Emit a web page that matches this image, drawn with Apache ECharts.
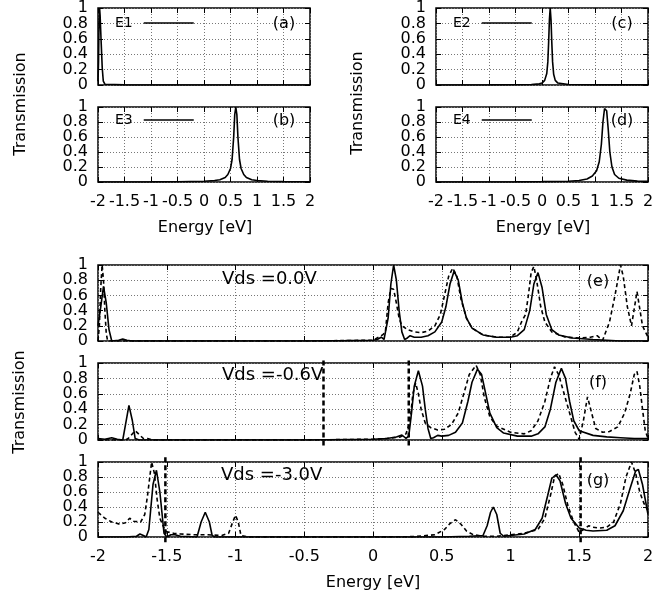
<!DOCTYPE html>
<html><head><meta charset="utf-8">
<script src="https://cdn.jsdelivr.net/npm/echarts@6/dist/echarts.min.js"></script>
<style>html,body{margin:0;padding:0;background:#fff}#c{width:671px;height:600px}</style>
</head><body><div id="c"></div>
<script>
// ---------- data ----------
const xTicks = [-2, -1.5, -1, -0.5, 0, 0.5, 1, 1.5, 2];
const yTicks = [0, 0.2, 0.4, 0.6, 0.8, 1];

const e1 = [[-2,0.05],[-1.99,0.3],[-1.98,0.85],[-1.97,1.0],[-1.96,0.9],[-1.94,0.55],[-1.92,0.22],[-1.9,0.05],[-1.87,0.01],[-1.5,0.002],[0,0],[2,0]];
const e2 = [[-2,0],[-1,0.001],[-0.5,0.003],[-0.2,0.006],[-0.05,0.015],[0,0.025],[0.05,0.06],[0.09,0.15],[0.11,0.3],[0.125,0.55],[0.14,0.85],[0.155,1.0],[0.17,0.85],[0.185,0.55],[0.2,0.3],[0.22,0.14],[0.25,0.06],[0.3,0.025],[0.5,0.007],[1,0.002],[2,0.001]];
const e3 = [[-2,0],[-1,0.002],[-0.5,0.004],[0,0.01],[0.2,0.02],[0.3,0.03],[0.4,0.06],[0.45,0.1],[0.5,0.18],[0.53,0.3],[0.56,0.6],[0.58,0.9],[0.6,1.0],[0.62,0.9],[0.64,0.6],[0.67,0.3],[0.7,0.18],[0.75,0.1],[0.8,0.06],[0.9,0.03],[1.0,0.02],[1.2,0.01],[1.5,0.005],[2,0.003]];
const e4 = [[-2,0],[-0.5,0.002],[0,0.005],[0.5,0.01],[0.7,0.02],[0.85,0.04],[0.95,0.08],[1.03,0.15],[1.08,0.27],[1.12,0.5],[1.15,0.8],[1.18,0.98],[1.2,1.0],[1.22,0.95],[1.25,0.7],[1.28,0.4],[1.32,0.2],[1.37,0.1],[1.45,0.05],[1.6,0.025],[1.8,0.012],[2,0.008]];

const eSolid = [[-2,0.2],[-1.98,0.45],[-1.96,0.72],[-1.94,0.5],[-1.92,0.15],[-1.9,0],[-1.85,0.01],[-1.82,0.025],[-1.79,0.01],[-1.75,0],[-1.5,0],[-1,0],[-0.5,0],[-0.2,0.005],[0,0.01],[0.03,0.02],[0.06,0.05],[0.08,0.02],[0.09,0],[0.11,0.3],[0.13,0.75],[0.15,1.0],[0.17,0.8],[0.19,0.4],[0.21,0.12],[0.23,0.02],[0.25,0.04],[0.27,0.07],[0.3,0.05],[0.35,0.05],[0.4,0.07],[0.45,0.12],[0.5,0.25],[0.53,0.45],[0.56,0.75],[0.59,0.92],[0.62,0.8],[0.65,0.5],[0.68,0.3],[0.72,0.17],[0.8,0.08],[0.9,0.05],[1.0,0.05],[1.05,0.07],[1.1,0.15],[1.14,0.4],[1.17,0.75],[1.2,0.9],[1.23,0.7],[1.26,0.35],[1.3,0.15],[1.35,0.08],[1.45,0.04],[1.6,0.02],[1.7,0.01],[1.8,0],[2,0]];
const eDashed = [[-2,0],[-1.99,0.2],[-1.98,0.7],[-1.97,1.0],[-1.96,0.8],[-1.95,0.4],[-1.94,0.1],[-1.93,0],[-1.5,0],[-1,0],[-0.5,0],[0,0.01],[0.04,0.05],[0.07,0.08],[0.09,0.12],[0.11,0.5],[0.13,0.69],[0.15,0.68],[0.17,0.5],[0.19,0.3],[0.21,0.2],[0.25,0.15],[0.3,0.12],[0.35,0.11],[0.4,0.13],[0.45,0.2],[0.49,0.35],[0.52,0.6],[0.55,0.85],[0.58,0.96],[0.61,0.85],[0.64,0.55],[0.68,0.3],[0.72,0.17],[0.8,0.08],[0.9,0.05],[1.0,0.05],[1.05,0.12],[1.08,0.25],[1.11,0.35],[1.13,0.6],[1.15,0.9],[1.17,0.98],[1.19,0.8],[1.22,0.45],[1.25,0.25],[1.3,0.12],[1.4,0.05],[1.5,0.04],[1.58,0.05],[1.63,0.07],[1.67,0.01],[1.72,0.25],[1.76,0.6],[1.8,1.0],[1.82,0.85],[1.85,0.45],[1.88,0.2],[1.92,0.65],[1.96,0.2],[2,0.05]];

const fSolid = [[-2,0.02],[-1.95,0.01],[-1.9,0.03],[-1.86,0.01],[-1.82,0],[-1.8,0.2],[-1.775,0.45],[-1.75,0.25],[-1.73,0.02],[-1.7,0],[-1.5,0],[-1,0],[-0.5,0],[0,0.01],[0.1,0.02],[0.17,0.04],[0.21,0.065],[0.24,0.02],[0.26,0.05],[0.28,0.35],[0.3,0.7],[0.33,0.9],[0.36,0.7],[0.38,0.4],[0.4,0.15],[0.42,0.02],[0.44,0.03],[0.47,0.06],[0.5,0.05],[0.55,0.06],[0.6,0.1],[0.65,0.22],[0.69,0.5],[0.72,0.75],[0.76,0.92],[0.79,0.85],[0.82,0.6],[0.85,0.35],[0.9,0.16],[0.95,0.09],[1.05,0.05],[1.15,0.05],[1.2,0.08],[1.25,0.17],[1.29,0.4],[1.33,0.75],[1.37,0.93],[1.4,0.8],[1.43,0.5],[1.46,0.25],[1.5,0.12],[1.6,0.06],[1.7,0.04],[1.8,0.03],[1.9,0.02],[2,0.02]];
const fDashed = [[-2,0],[-1.8,0],[-1.78,0.02],[-1.76,0.06],[-1.73,0.12],[-1.7,0.07],[-1.67,0.02],[-1.64,0.02],[-1.6,0],[-1,0],[-0.5,0],[0,0.01],[0.1,0.02],[0.2,0.04],[0.24,0.08],[0.27,0.25],[0.29,0.6],[0.31,0.74],[0.33,0.6],[0.35,0.4],[0.38,0.22],[0.42,0.16],[0.47,0.13],[0.52,0.14],[0.57,0.2],[0.62,0.35],[0.66,0.6],[0.7,0.85],[0.75,0.97],[0.78,0.85],[0.81,0.55],[0.85,0.3],[0.9,0.18],[1.0,0.1],[1.1,0.08],[1.15,0.12],[1.2,0.25],[1.25,0.5],[1.29,0.8],[1.32,0.95],[1.35,0.85],[1.39,0.6],[1.43,0.35],[1.47,0.1],[1.5,0.01],[1.53,0.25],[1.56,0.56],[1.59,0.35],[1.62,0.15],[1.67,0.1],[1.72,0.11],[1.78,0.17],[1.83,0.35],[1.87,0.6],[1.9,0.85],[1.92,0.89],[1.94,0.7],[1.96,0.4],[1.98,0.12],[2,0.02]];

const gSolid = [[-2,0],[-1.8,0],[-1.72,0.01],[-1.695,0.04],[-1.67,0.02],[-1.65,0],[-1.63,0.1],[-1.6,0.7],[-1.575,0.89],[-1.55,0.6],[-1.52,0.05],[-1.5,0],[-1.47,0.03],[-1.44,0.03],[-1.4,0.01],[-1.28,0],[-1.25,0.2],[-1.22,0.33],[-1.19,0.2],[-1.17,0.02],[-1.15,0],[-1,0],[-0.5,0],[0,0],[0.5,0],[0.7,0.01],[0.8,0.02],[0.83,0.15],[0.855,0.33],[0.875,0.4],[0.9,0.3],[0.925,0.05],[0.95,0.01],[1.0,0.02],[1.1,0.04],[1.18,0.1],[1.23,0.25],[1.27,0.55],[1.3,0.78],[1.33,0.83],[1.36,0.75],[1.4,0.45],[1.44,0.25],[1.5,0.12],[1.55,0.09],[1.6,0.08],[1.7,0.09],[1.76,0.15],[1.82,0.35],[1.87,0.65],[1.91,0.88],[1.93,0.9],[1.96,0.7],[1.98,0.5],[2,0.3]];
const gDashed = [[-2,0.33],[-1.95,0.25],[-1.9,0.2],[-1.84,0.17],[-1.8,0.19],[-1.77,0.25],[-1.74,0.21],[-1.69,0.2],[-1.66,0.3],[-1.64,0.55],[-1.62,0.85],[-1.61,1.0],[-1.59,0.85],[-1.57,0.5],[-1.55,0.25],[-1.52,0.12],[-1.5,0.07],[-1.45,0.05],[-1.4,0.04],[-1.3,0.03],[-1.2,0.03],[-1.1,0.02],[-1.05,0.05],[-1.02,0.2],[-1.0,0.29],[-0.98,0.2],[-0.96,0.02],[-0.9,0],[-0.5,0],[0,0],[0.3,0.005],[0.45,0.03],[0.52,0.1],[0.56,0.18],[0.6,0.23],[0.64,0.17],[0.68,0.08],[0.73,0.03],[0.8,0.01],[0.9,0.01],[1.0,0.03],[1.1,0.05],[1.2,0.1],[1.25,0.25],[1.29,0.55],[1.32,0.8],[1.35,0.85],[1.38,0.7],[1.42,0.4],[1.46,0.2],[1.5,0.06],[1.53,0.1],[1.57,0.15],[1.6,0.13],[1.65,0.12],[1.7,0.13],[1.75,0.2],[1.8,0.45],[1.84,0.8],[1.88,1.0],[1.91,0.85],[1.94,0.6],[1.97,0.45],[2,0.35]];

const fermiF = [-0.36, 0.26];
const fermiG = [-1.51, 1.51];

const panelLabels = ['(a)', '(b)', '(c)', '(d)', '(e)', '(f)', '(g)'];
const vdsLabels = ['Vds =0.0V', 'Vds =-0.6V', 'Vds =-3.0V'];
const legendNames = ['E1', 'E3', 'E2', 'E4'];

// ---------- layout ----------
const FONT = 'DejaVu Sans';
const grids = [
  {left: 98, top: 8, width: 212, height: 77},    // a
  {left: 98, top: 107, width: 212, height: 75},  // b
  {left: 436, top: 8, width: 212, height: 77},   // c
  {left: 436, top: 107, width: 212, height: 75}, // d
  {left: 98, top: 265, width: 550, height: 76},  // e
  {left: 98, top: 363, width: 550, height: 77},  // f
  {left: 98, top: 462, width: 550, height: 75}   // g
];
const showXLabels = [false, true, false, true, false, false, true];
const labelPos = [[284,24],[284,121],[622,24],[622,121],[598,282],[598,383],[598,481]];
const vdsPos = [[222,279],[222,375],[221,475]];
const legendPos = [[115,25],[115,122],[453,25],[453,122]];

const gridLine = {show: true, lineStyle: {color: '#777', type: [1, 2], width: 1}};
const tick = {show: true, inside: true, length: 5, lineStyle: {color: '#000'}};
const noLine = {show: false, onZero: false};
const yBase = {type: 'value', min: yTicks[0], max: yTicks[yTicks.length-1], interval: yTicks[1]-yTicks[0], axisLine: noLine};
const xBase = {type: 'value', min: xTicks[0], max: xTicks[xTicks.length-1], interval: xTicks[1]-xTicks[0], axisLine: noLine};
const yLabelStyle = {fontFamily: FONT, fontSize: 16, color: '#000', margin: 10, showMinLabel: true, showMaxLabel: true};
// y tick labels are split across two overlaid left axes so that ECharts does not drop tightly packed labels
const evenIdx = v => Math.round(v / (yTicks[1]-yTicks[0])) % 2 === 0;

const xAxes = [], yAxes = [];
grids.forEach((g, i) => {
  xAxes.push(Object.assign({}, xBase, {gridIndex: i, position: 'bottom', axisTick: tick,
    axisLabel: {show: showXLabels[i], fontFamily: FONT, fontSize: 16, color: '#000', margin: 12, showMinLabel: true, showMaxLabel: true},
    splitLine: gridLine}));
  yAxes.push(Object.assign({}, yBase, {gridIndex: i, position: 'left', axisTick: tick,
    axisLabel: Object.assign({formatter: v => evenIdx(v) ? String(v) : ''}, yLabelStyle),
    splitLine: gridLine}));
});
grids.forEach((g, i) => {
  xAxes.push(Object.assign({}, xBase, {gridIndex: i, position: 'top', axisTick: tick, axisLabel: {show: false}, splitLine: {show: false}}));
  yAxes.push(Object.assign({}, yBase, {gridIndex: i, position: 'right', axisTick: tick, axisLabel: {show: false}, splitLine: {show: false}}));
});
grids.forEach((g, i) => {
  yAxes.push(Object.assign({}, yBase, {gridIndex: i, position: 'left', axisTick: {show: false},
    axisLabel: Object.assign({formatter: v => evenIdx(v) ? '' : String(v)}, yLabelStyle),
    splitLine: {show: false}}));
});

function line(name, data, idx, dashed) {
  return {type: 'line', name, data, xAxisIndex: idx, yAxisIndex: idx, showSymbol: false, symbol: 'none',
    color: '#000', lineStyle: {color: '#000', width: 1.6, type: dashed ? [4, 3] : 'solid'}, z: 3, silent: true};
}
function vline(x, idx) {
  return {type: 'line', data: [[x, -0.07], [x, 1.07]], xAxisIndex: idx, yAxisIndex: idx, showSymbol: false, symbol: 'none',
    clip: false, color: '#000', lineStyle: {color: '#000', width: 2.5, type: [5, 3]}, z: 4, silent: true};
}

const series = [
  line('E1', e1, 0, false),
  line('E3', e3, 1, false),
  line('E2', e2, 2, false),
  line('E4', e4, 3, false),
  line('e-solid', eSolid, 4, false), line('e-dashed', eDashed, 4, true),
  line('f-solid', fSolid, 5, false), line('f-dashed', fDashed, 5, true),
  line('g-solid', gSolid, 6, false), line('g-dashed', gDashed, 6, true),
  ...fermiF.map(x => vline(x, 5)),
  ...fermiG.map(x => vline(x, 6))
];

const legends = legendNames.map((n, i) => ({
  data: [n], left: legendPos[i][0], top: legendPos[i][1] - 9, align: 'right', orient: 'horizontal',
  icon: 'rect', itemWidth: 50, itemHeight: 1.5, padding: 0, selectedMode: false,
  textStyle: {fontFamily: FONT, fontSize: 14, color: '#000', padding: [0, 6, 0, 0]}
}));

const texts = [];
panelLabels.forEach((t, i) => texts.push({type: 'text', x: labelPos[i][0], y: labelPos[i][1],
  style: {text: t, font: '16px "DejaVu Sans"', fill: '#000', align: 'center', verticalAlign: 'middle'}, z: 10}));
vdsLabels.forEach((t, i) => texts.push({type: 'text', x: vdsPos[i][0], y: vdsPos[i][1],
  style: {text: t, font: '18px "DejaVu Sans"', fill: '#000', align: 'left', verticalAlign: 'middle'}, z: 10}));
[[205,228],[543,228],[373,583]].forEach(p => texts.push({type: 'text', x: p[0], y: p[1],
  style: {text: 'Energy [eV]', font: '16px "DejaVu Sans"', fill: '#000', align: 'center', verticalAlign: 'middle'}}));
[[21,104],[358,103],[20,402]].forEach(p => texts.push({type: 'text', x: p[0], y: p[1], rotation: Math.PI/2,
  style: {text: 'Transmission', font: '16px "DejaVu Sans"', fill: '#000', align: 'center', verticalAlign: 'middle'}}));

const chart = echarts.init(document.getElementById('c'), null, {renderer: 'canvas'});
chart.setOption({
  animation: false,
  backgroundColor: '#fff',
  grid: grids.map(g => Object.assign({show: true, borderColor: '#000', borderWidth: 1.5, backgroundColor: 'transparent', containLabel: false}, g)),
  xAxis: xAxes,
  yAxis: yAxes,
  legend: legends,
  series,
  graphic: texts
});
</script></body></html>
